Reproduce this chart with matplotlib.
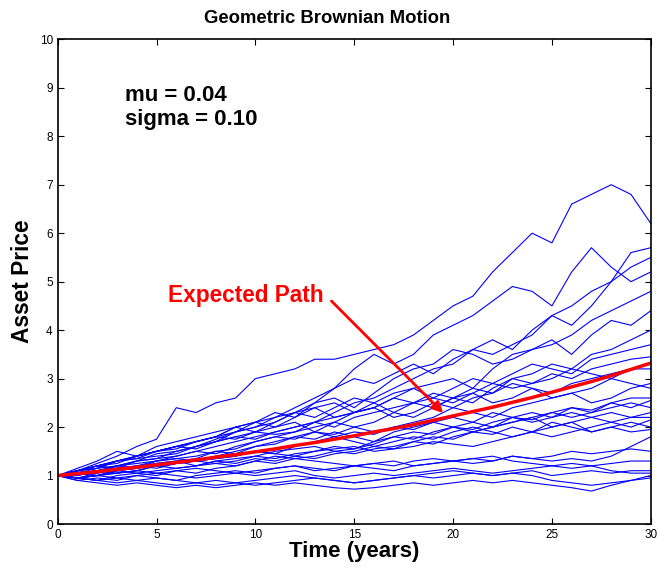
import matplotlib.pyplot as plt

plt.rcParams['font.family'] = ['Liberation Sans', 'DejaVu Sans']

years = list(range(31))

# simulated price paths at yearly steps
p01 = [1, 1.1, 1.25, 1.4, 1.6, 1.75, 2.4, 2.3, 2.5, 2.6, 3.0, 3.1, 3.2, 3.4, 3.4, 3.5, 3.6, 3.7, 3.9, 4.2, 4.5, 4.7, 5.2, 5.6, 6.0, 5.8, 6.6, 6.8, 7.0, 6.8, 6.2]
p02 = [1, 1.1, 1.2, 1.3, 1.4, 1.5, 1.6, 1.7, 1.8, 2.0, 2.1, 2.2, 2.4, 2.6, 2.8, 3.2, 3.5, 3.3, 3.5, 3.9, 4.1, 4.3, 4.6, 4.9, 4.8, 4.5, 5.2, 5.7, 5.3, 5.0, 5.2]
p03 = [1, 1.05, 1.15, 1.2, 1.3, 1.35, 1.4, 1.5, 1.6, 1.7, 1.8, 1.9, 2.0, 2.1, 2.3, 2.5, 2.6, 2.8, 3.0, 3.2, 3.3, 3.6, 3.8, 3.6, 4.0, 4.3, 4.5, 4.8, 5.0, 5.6, 5.7]
p04 = [1, 1.1, 1.2, 1.15, 1.3, 1.45, 1.5, 1.6, 1.75, 1.9, 2.0, 2.2, 2.3, 2.5, 2.8, 3.0, 2.9, 3.1, 3.3, 3.1, 3.4, 3.6, 3.5, 3.7, 3.9, 4.3, 4.1, 4.5, 5.0, 5.3, 5.5]
p05 = [1, 0.95, 1.05, 1.1, 1.2, 1.25, 1.3, 1.35, 1.5, 1.55, 1.7, 1.8, 1.75, 1.9, 2.1, 2.3, 2.4, 2.6, 2.8, 2.9, 3.0, 2.8, 3.2, 3.5, 3.6, 3.7, 3.9, 4.2, 4.4, 4.6, 4.8]
p06 = [1, 1.1, 1.2, 1.3, 1.4, 1.5, 1.55, 1.7, 1.8, 2.0, 2.1, 2.3, 2.2, 2.5, 2.6, 2.4, 2.7, 3.0, 3.2, 3.3, 3.6, 3.5, 3.3, 3.4, 3.6, 3.8, 3.5, 3.9, 4.2, 4.1, 4.4]
p07 = [1, 1.05, 1.0, 1.1, 1.15, 1.2, 1.25, 1.3, 1.4, 1.5, 1.6, 1.65, 1.8, 1.9, 1.85, 2.0, 2.1, 2.3, 2.2, 2.4, 2.6, 2.8, 2.7, 3.0, 3.1, 3.3, 3.2, 3.5, 3.6, 3.8, 4.0]
p08 = [1, 1.1, 1.15, 1.3, 1.4, 1.5, 1.6, 1.55, 1.7, 1.9, 2.0, 2.1, 2.3, 2.2, 2.4, 2.6, 2.5, 2.3, 2.5, 2.6, 2.8, 3.0, 2.9, 3.1, 3.3, 3.2, 3.1, 3.4, 3.5, 3.6, 3.7]
p09 = [1, 1.0, 1.1, 1.15, 1.2, 1.3, 1.4, 1.5, 1.45, 1.6, 1.7, 1.8, 1.9, 2.1, 2.0, 2.2, 2.3, 2.4, 2.5, 2.7, 2.6, 2.5, 2.8, 3.0, 2.9, 3.1, 3.0, 3.2, 3.3, 3.4, 3.45]
p10 = [1, 1.1, 1.05, 1.2, 1.3, 1.35, 1.5, 1.6, 1.7, 1.8, 1.75, 1.9, 2.0, 2.1, 2.2, 2.3, 2.4, 2.6, 2.5, 2.4, 2.6, 2.7, 2.5, 2.6, 2.8, 2.7, 2.9, 3.0, 3.1, 3.2, 3.2]
p11 = [1, 0.95, 1.0, 1.05, 1.1, 1.2, 1.25, 1.3, 1.35, 1.4, 1.5, 1.45, 1.6, 1.7, 1.8, 1.9, 1.85, 2.0, 2.1, 2.2, 2.4, 2.3, 2.2, 2.4, 2.5, 2.6, 2.7, 2.5, 2.6, 2.8, 2.9]
p12 = [1, 1.1, 1.2, 1.25, 1.4, 1.5, 1.6, 1.7, 1.8, 1.9, 2.1, 2.0, 2.2, 2.4, 2.5, 2.3, 2.4, 2.2, 2.3, 2.5, 2.4, 2.6, 2.7, 2.9, 2.8, 2.6, 2.7, 2.8, 3.0, 2.9, 2.8]
p13 = [1, 0.95, 0.9, 1.0, 1.05, 1.1, 1.15, 1.2, 1.25, 1.3, 1.4, 1.35, 1.45, 1.5, 1.6, 1.55, 1.7, 1.8, 1.9, 1.85, 2.0, 2.1, 2.0, 2.2, 2.3, 2.2, 2.4, 2.3, 2.5, 2.4, 2.55]
p14 = [1, 1.05, 1.1, 1.2, 1.15, 1.3, 1.35, 1.4, 1.5, 1.45, 1.6, 1.7, 1.8, 1.75, 1.9, 1.8, 1.7, 1.9, 2.0, 2.1, 2.0, 1.9, 2.0, 2.1, 2.2, 2.0, 2.1, 2.2, 2.3, 2.2, 2.3]
p15 = [1, 0.9, 0.95, 0.9, 1.0, 1.05, 1.1, 1.05, 1.15, 1.2, 1.3, 1.25, 1.35, 1.4, 1.5, 1.45, 1.55, 1.6, 1.7, 1.8, 1.75, 1.9, 1.85, 2.0, 1.9, 1.8, 1.9, 2.0, 2.1, 2.0, 2.15]
p16 = [1, 1.1, 1.15, 1.3, 1.35, 1.5, 1.6, 1.7, 1.8, 1.75, 1.9, 2.0, 2.1, 1.9, 1.8, 1.7, 1.6, 1.7, 1.8, 1.75, 1.9, 2.0, 1.9, 1.8, 1.9, 2.0, 2.1, 1.9, 2.0, 1.9, 1.95]
p17 = [1, 0.95, 0.9, 0.95, 1.0, 0.95, 0.9, 1.0, 1.05, 1.1, 1.05, 1.15, 1.2, 1.1, 1.15, 1.2, 1.25, 1.3, 1.2, 1.25, 1.3, 1.35, 1.3, 1.4, 1.35, 1.3, 1.35, 1.3, 1.4, 1.6, 1.8]
p18 = [1, 1.05, 1.1, 1.15, 1.2, 1.15, 1.25, 1.3, 1.35, 1.4, 1.5, 1.45, 1.4, 1.5, 1.55, 1.6, 1.5, 1.55, 1.6, 1.7, 1.65, 1.6, 1.7, 1.8, 1.9, 2.1, 2.0, 1.9, 2.0, 2.1, 2.0]
p19 = [1, 1.0, 1.1, 1.05, 1.1, 1.2, 1.15, 1.2, 1.3, 1.25, 1.35, 1.3, 1.4, 1.35, 1.45, 1.5, 1.6, 1.55, 1.7, 1.65, 1.8, 1.9, 2.0, 2.1, 2.2, 2.3, 2.4, 2.35, 2.5, 2.6, 2.6]
p20 = [1, 0.95, 0.9, 0.85, 0.9, 0.85, 0.8, 0.85, 0.9, 0.85, 0.8, 0.85, 0.9, 0.95, 0.9, 0.85, 0.9, 0.95, 1.0, 0.95, 1.0, 1.05, 1.0, 1.05, 1.1, 1.0, 1.05, 1.1, 1.05, 1.1, 1.1]
p21 = [1, 0.9, 0.85, 0.8, 0.85, 0.8, 0.75, 0.8, 0.75, 0.8, 0.85, 0.8, 0.85, 0.8, 0.75, 0.72, 0.75, 0.8, 0.85, 0.8, 0.85, 0.9, 0.85, 0.9, 0.85, 0.8, 0.75, 0.68, 0.8, 0.9, 1.0]
p22 = [1, 0.95, 1.0, 0.95, 0.9, 0.95, 0.9, 0.85, 0.8, 0.85, 0.9, 0.95, 1.0, 0.95, 0.9, 0.85, 0.9, 0.95, 1.0, 1.05, 1.1, 1.05, 1.0, 1.05, 1.0, 0.9, 0.85, 0.8, 0.85, 0.9, 0.95]
p23 = [1, 1.05, 1.0, 1.1, 1.05, 1.0, 1.1, 1.15, 1.1, 1.05, 1.0, 1.05, 1.1, 1.0, 0.95, 1.0, 1.05, 1.0, 1.05, 1.1, 1.15, 1.1, 1.05, 1.1, 1.15, 1.2, 1.25, 1.2, 1.1, 1.05, 1.05]
p24 = [1, 1.15, 1.3, 1.5, 1.4, 1.6, 1.7, 1.8, 1.9, 2.0, 1.9, 2.1, 2.3, 2.4, 2.2, 2.3, 2.5, 2.7, 2.8, 2.6, 2.5, 2.7, 2.9, 2.8, 2.9, 3.0, 3.2, 3.1, 3.0, 3.2, 3.3]
p25 = [1, 0.95, 1.0, 1.05, 1.1, 1.05, 1.0, 0.95, 1.0, 1.05, 1.1, 1.15, 1.2, 1.15, 1.1, 1.2, 1.25, 1.2, 1.3, 1.35, 1.3, 1.25, 1.3, 1.4, 1.35, 1.4, 1.5, 1.45, 1.5, 1.55, 1.5]
p26 = [1, 1.05, 1.1, 1.2, 1.25, 1.3, 1.35, 1.3, 1.25, 1.2, 1.3, 1.4, 1.35, 1.3, 1.25, 1.2, 1.15, 1.1, 1.2, 1.25, 1.3, 1.35, 1.4, 1.3, 1.25, 1.2, 1.15, 1.2, 1.25, 1.3, 1.3]
p27 = [1, 1.1, 1.2, 1.3, 1.35, 1.4, 1.45, 1.6, 1.7, 1.8, 1.9, 1.85, 1.9, 2.0, 2.1, 2.0, 1.9, 2.0, 1.95, 2.1, 2.2, 2.1, 2.3, 2.2, 2.1, 2.2, 2.3, 2.2, 2.1, 2.2, 2.2]
p28 = [1, 0.95, 1.0, 1.1, 1.15, 1.25, 1.3, 1.2, 1.3, 1.35, 1.4, 1.5, 1.55, 1.6, 1.5, 1.55, 1.65, 1.8, 1.75, 1.9, 2.0, 1.95, 2.1, 2.2, 2.15, 2.3, 2.2, 2.3, 2.4, 2.5, 2.4]

paths = [p01, p02, p03, p04, p05, p06, p07, p08, p09, p10, p11, p12, p13, p14,
         p15, p16, p17, p18, p19, p20, p21, p22, p23, p24, p25, p26, p27, p28]

# expected path read at yearly steps
expected = [1.00, 1.04, 1.08, 1.13, 1.17, 1.22, 1.27, 1.32, 1.38, 1.43, 1.49,
            1.55, 1.62, 1.68, 1.75, 1.82, 1.90, 1.97, 2.05, 2.14, 2.23,
            2.32, 2.41, 2.51, 2.61, 2.72, 2.83, 2.94, 3.06, 3.19, 3.32]

fig = plt.figure(figsize=(6.59, 5.69), dpi=100)
ax = fig.add_axes([0.0875, 0.079, 0.9, 0.852])

for p in paths:
    ax.plot(years, p, color='#0000ff', lw=0.8)
ax.plot(years, expected, color='#ff0000', lw=2.5)

ax.set_xlim(0, 30)
ax.set_ylim(0, 10)
ax.set_xticks([0, 5, 10, 15, 20, 25, 30])
ax.set_yticks(range(11))
ax.tick_params(direction='in', top=True, right=True, length=4, labelsize=8.5, width=0.8)
for s in ax.spines.values():
    s.set_linewidth(1.2)

fig.text(0.496, 0.968, 'Geometric Brownian Motion', fontsize=13.3, fontweight='bold',
         ha='center', va='center')
ax.set_xlabel('Time (years)', fontsize=16, fontweight='bold', labelpad=0)
ax.set_ylabel('Asset Price', fontsize=16.4, fontweight='bold', labelpad=4)

ax.text(3.4, 8.6, 'mu = 0.04\nsigma = 0.10', fontsize=16, fontweight='bold',
        va='center', ha='left', linespacing=1.2)

ax.text(9.5, 4.72, 'Expected Path', color='#ff0000', fontsize=16.3,
        fontweight='bold', ha='center', va='center')
ax.annotate('', xy=(19.5, 2.29), xytext=(13.85, 4.6),
            arrowprops=dict(arrowstyle='-|>', color='#ff0000', lw=2,
                            mutation_scale=16, shrinkA=0, shrinkB=0))

fig.savefig('out.png', dpi=100)
